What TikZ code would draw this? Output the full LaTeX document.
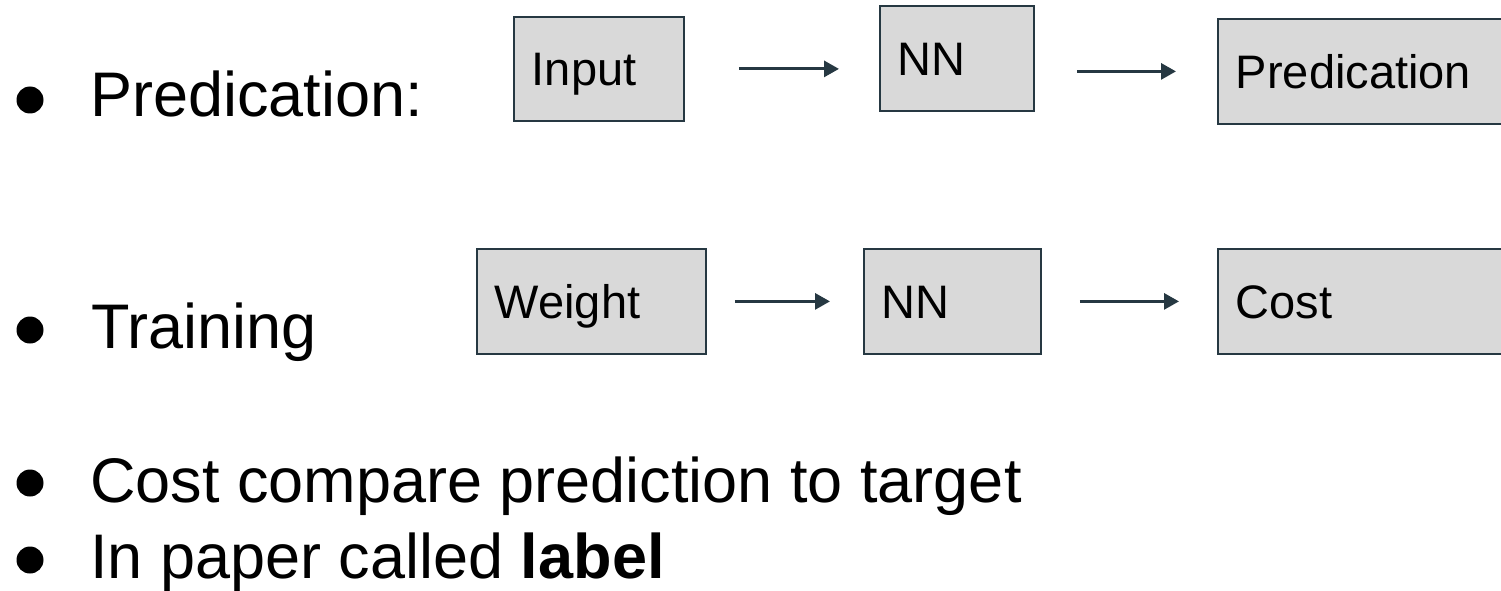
\documentclass[tikz,border=0pt]{standalone}
\usepackage{fontspec}
\setmainfont{Liberation Sans}
\usetikzlibrary{arrows.meta}
\definecolor{boxfill}{HTML}{D9D9D9}
\definecolor{boxline}{HTML}{263842}
\begin{document}
\begin{tikzpicture}[x=1pt,y=-1pt,
  stepbox/.style={draw=boxline, line width=1.8pt, fill=boxfill, anchor=north west,
    inner xsep=18pt, inner ysep=0pt, align=left, text height=33.6pt, text depth=0pt,
    font=\fontsize{47}{56}\selectfont},
  bul/.style={circle, fill=black, inner sep=0pt, minimum size=27pt},
  item/.style={anchor=base west, inner sep=0pt, font=\fontsize{63}{76}\selectfont},
  flow/.style={draw=boxline, line width=3pt, -{Triangle[length=15pt,width=16pt]}}]
\clip (0,0) rectangle (1501,591);
% bullets and items
\node[bul] (b1) at (30,100) {};
\node[item] (t1) at (90,117) {Predication:};
\node[bul] (b2) at (30,330) {};
\node[item] (t2) at (91,348) {Training};
\node[bul] (b3) at (30,483) {};
\node[item] (t3) at (90,502) {Cost compare prediction to target};
\node[bul] (b4) at (30,560) {};
\node[item] (t4) at (90,578) {In paper called \textbf{label}};
% row 1
\node[stepbox, minimum width=170pt, text width=134pt, minimum height=104pt] (in) at (513,16) {Input};
\node[stepbox, minimum width=154pt, text width=118pt, minimum height=105pt] (nn1) at (879,5) {NN};
\node[stepbox, minimum width=320pt, text width=284pt, minimum height=105pt] (pred) at (1217,18) {Predication};
% row 2
\node[stepbox, minimum width=229pt, text width=193pt, minimum height=105pt] (w) at (476,248) {Weight};
\node[stepbox, minimum width=177pt, text width=141pt, minimum height=105pt] (nn2) at (863,248) {NN};
\node[stepbox, minimum width=320pt, text width=284pt, minimum height=105pt] (cost) at (1217,248) {Cost};
% arrows
\draw[flow, shorten <=54pt, shorten >=40pt] (in.east) -- (nn1.west |- in.east);
\draw[flow, shorten <=42pt, shorten >=41pt] (nn1.east |- pred.west) -- (pred.west);
\draw[flow, shorten <=28pt, shorten >=33pt] (w.east) -- (nn2.west);
\draw[flow, shorten <=38pt, shorten >=38pt] (nn2.east) -- (cost.west);
\end{tikzpicture}
\end{document}
